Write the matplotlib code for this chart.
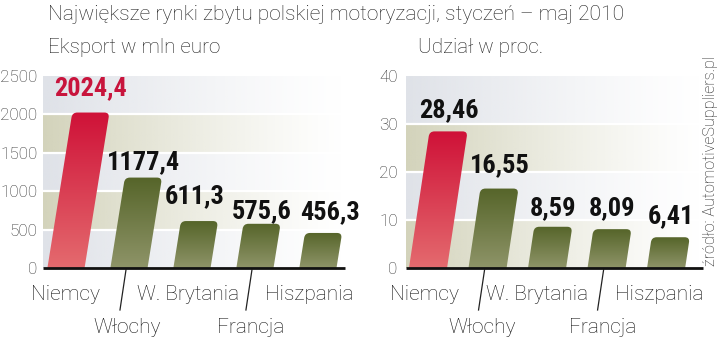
import math
import numpy as np
import matplotlib
matplotlib.use("Agg")
import matplotlib.pyplot as plt
from matplotlib.patches import FancyBboxPatch
from matplotlib.transforms import Affine2D, blended_transform_factory
from matplotlib.colors import to_rgb

# ---- data -------------------------------------------------------------
countries = ["Niemcy", "Włochy", "W. Brytania", "Francja", "Hiszpania"]
export_mln_eur = [2024.4, 1177.4, 611.3, 575.6, 456.3]
share_pct = [28.46, 16.55, 8.59, 8.09, 6.41]
export_ticks = [0, 500, 1000, 1500, 2000, 2500]
share_ticks = [0, 10, 20, 30, 40]

title = "Największe rynki zbytu polskiej motoryzacji, styczeń – maj 2010"
export_title = "Eksport w mln euro"
share_title = "Udział w proc."
source = "źródło: AutomotiveSuppliers.pl"

# ---- style ------------------------------------------------------------
plt.rcParams["font.family"] = ["Roboto", "DejaVu Sans"]
plt.rcParams["font.weight"] = "light"
VALUE_FONT = ["Roboto Condensed", "DejaVu Sans"]
TEXT = "#1e1e1e"
RED_TOP, RED_BOT = "#cf1238", "#e46a6e"
OLIVE_TOP, OLIVE_BOT = "#56652a", "#8e9468"
GRAY_BAND, KHAKI_BAND = "#dfe2e8", "#d3d3bb"
LABEL_SIZE = 15.0

W, H = 720, 338
fig = plt.figure(figsize=(W / 100, H / 100), dpi=100)


def axes_px(left, right, top, bottom):
    return fig.add_axes([left / W, 1 - bottom / H, (right - left) / W, (bottom - top) / H])


def fmt(v, nd):
    return f"{v:.{nd}f}".replace(".", ",")


def draw_panel(ax, values, ticks, ndec, xlim, bar_w, slant, band_cols,
               value_gap, value_dx, cat_dx, first_red_label, tick_pad):
    ymax = ticks[-1]
    ax.set_xlim(*xlim)
    ax.set_ylim(0, ymax)
    bb = ax.get_window_extent()
    ppx = bb.width / (xlim[1] - xlim[0])
    ppy = bb.height / ymax
    k = slant * ppy / ppx  # x units per y unit
    skew = Affine2D().skew(math.atan(k), 0) + ax.transData

    # horizontal bands fading to white
    t = np.linspace(0, 1, 256)
    alpha = np.clip(1 - t, 0, 1) ** 1.25
    for j in range(len(ticks) - 1):
        rgb = to_rgb(band_cols[j % 2])
        img = np.zeros((1, 256, 4))
        img[..., :3] = rgb
        img[..., 3] = alpha
        ax.imshow(img, extent=(xlim[0], xlim[1], ticks[j], ticks[j + 1]),
                  aspect="auto", interpolation="bilinear", zorder=0)
    for tv in ticks[1:-1]:
        ax.axhline(tv, color="white", lw=1.6, zorder=1)

    # slanted bars with rounded tops and vertical gradient
    r_px = 5.0
    r_x = r_px / ppx
    r_y = r_px / ppy
    for i, v in enumerate(values):
        top_c, bot_c = (RED_TOP, RED_BOT) if i == 0 else (OLIVE_TOP, OLIVE_BOT)
        y0 = -2 * r_y
        patch = FancyBboxPatch((i - bar_w / 2, y0), bar_w, v - y0,
                               boxstyle=f"round,pad=0,rounding_size={r_x}",
                               mutation_aspect=r_y / r_x, transform=skew,
                               facecolor="none", edgecolor="none")
        ax.add_patch(patch)
        n = 64
        g = np.linspace(0, 1, n)[:, None]
        grad = np.zeros((n, 1, 3))
        grad[:, 0, :] = (1 - g) * np.array(to_rgb(top_c)) + g * np.array(to_rgb(bot_c))
        im = ax.imshow(grad, extent=(i - bar_w, i + bar_w + k * v + 0.2, 0, v),
                       aspect="auto", interpolation="bilinear", zorder=2)
        im.set_clip_path(patch)

        color = "#c8143c" if (i == 0 and first_red_label) else "#111111"
        ax.text(i + k * v + value_dx[i] / ppx, v + value_gap[i] / ppy, fmt(v, ndec),
                ha="center", va="baseline", family=VALUE_FONT, weight="bold",
                fontsize=19, color=color, zorder=4, clip_on=False)

    ax.set_xlim(*xlim)
    ax.set_ylim(0, ymax)

    # baseline
    ax.plot(xlim, [0, 0], color="#111111", lw=2.0, solid_capstyle="butt",
            zorder=5, clip_on=False)

    # category labels in two rows with slanted leader lines
    bt = blended_transform_factory(ax.transData, ax.transAxes)
    h = bb.height
    for i, name in enumerate(countries):
        row2 = i % 2 == 1
        ybase = (-32 if not row2 else -65) / h
        ax.text(i + cat_dx[i] / ppx, ybase, name, transform=bt, ha="center",
                va="baseline", fontsize=LABEL_SIZE, color="#111111", clip_on=False)
        if row2:
            ax.plot([i - 3 / ppx, i - 9 / ppx], [-2 / h, -42 / h], transform=bt,
                    color="#222222", lw=0.9, clip_on=False)

    ax.set_yticks(ticks)
    ax.set_yticklabels([str(tv) for tv in ticks])
    ax.set_xticks([])
    ax.tick_params(axis="y", length=0, pad=tick_pad, labelsize=12.3,
                   labelcolor="#333333")
    for s in ax.spines.values():
        s.set_visible(False)
    ax.set_facecolor("white")


ax1 = axes_px(43, 345, 76, 268)
draw_panel(ax1, export_mln_eur, export_ticks, 1, (-0.365, 4.43), 0.59, 0.16,
           [GRAY_BAND, KHAKI_BAND], value_gap=[17, 8, 18, 6, 14],
           value_dx=[0, 0, -5, 0, 6], cat_dx=[0, -2, -4, -4, -9],
           first_red_label=True, tick_pad=4)

ax2 = axes_px(406, 703, 76, 268)
draw_panel(ax2, share_pct, share_ticks, 2, (-0.37, 4.62), 0.64, 0.15,
           [KHAKI_BAND, GRAY_BAND], value_gap=[14, 16, 12, 14, 14],
           value_dx=[0, 0, 0, 0, 0], cat_dx=[-4, -5, -10, -4, -7],
           first_red_label=False, tick_pad=6)

fig.text(48 / W, 1 - 20 / H, title, ha="left", va="baseline", fontsize=15.1, color=TEXT)
fig.text(48 / W, 1 - 53 / H, export_title, ha="left", va="baseline", fontsize=14.9, color=TEXT)
fig.text(418 / W, 1 - 53 / H, share_title, ha="left", va="baseline", fontsize=14.9, color=TEXT)
fig.text(711 / W, 1 - 161 / H, source, rotation=90, ha="center", va="center",
         fontsize=11.6, color=TEXT)

fig.savefig("out.png", dpi=100, facecolor="white")
